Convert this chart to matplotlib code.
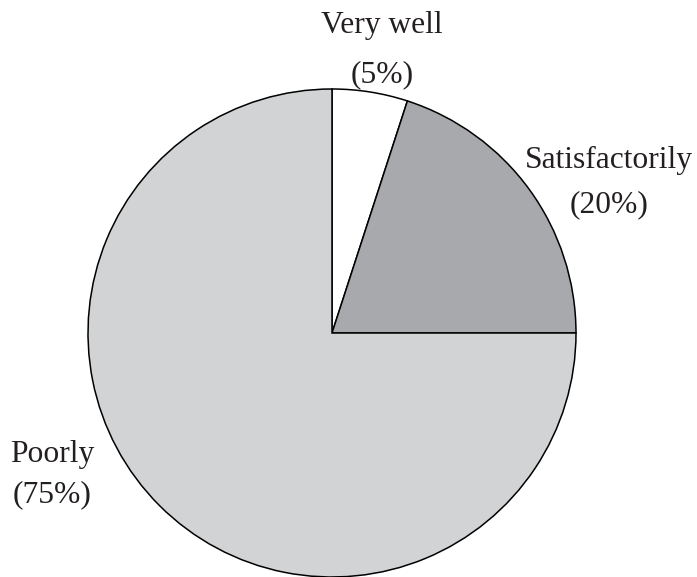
import matplotlib
matplotlib.use("Agg")
import matplotlib.pyplot as plt

# Survey answers, clockwise from 12 o'clock
labels = ["Very well", "Satisfactorily", "Poorly"]
shares = [5, 20, 75]
colors = ["#ffffff", "#a7a9ac", "#d1d3d4"]

W, H = 697, 577
fig = plt.figure(figsize=(W / 100, H / 100), dpi=100)
ax = fig.add_axes([0, 0, 1, 1])

ax.pie(shares, colors=colors, startangle=90, counterclock=False,
       center=(332, H - 333), radius=244,
       wedgeprops=dict(edgecolor="black", linewidth=1.1))

ax.set_xlim(0, W)
ax.set_ylim(0, H)
ax.set_aspect("equal")
ax.axis("off")

plt.rcParams["font.family"] = ["Liberation Serif", "DejaVu Serif"]
fs = 22.7

# label name line and percentage line, placed by pixel baseline
label_pos = {
    "Very well": (382, 33, 82),
    "Satisfactorily": (609, 168, 212),
    "Poorly": (52, 462, 502),
}
for name, pct in zip(labels, shares):
    x, y1, y2 = label_pos[name]
    ax.text(x, H - y1, name, ha="center", va="baseline", fontsize=fs,
            color="#231f20")
    ax.text(x, H - y2, f"({pct}%)", ha="center", va="baseline", fontsize=fs,
            color="#231f20")

fig.savefig("out.png", dpi=100)
